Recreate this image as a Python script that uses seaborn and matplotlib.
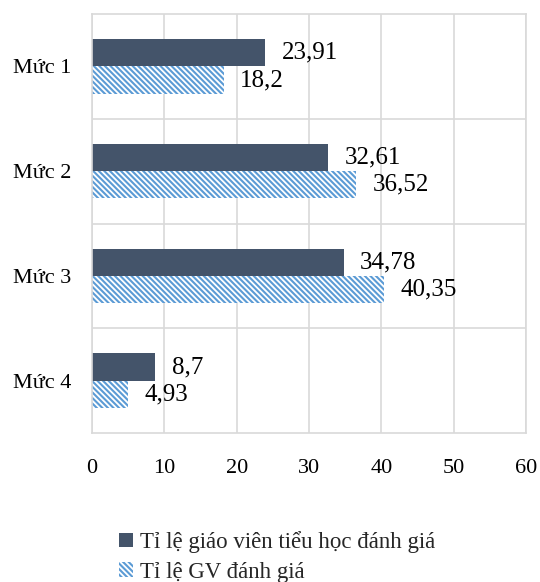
import matplotlib
matplotlib.use("Agg")
import matplotlib.pyplot as plt
import seaborn as sns
import pandas as pd
from matplotlib.patches import Patch

categories = ["Mức 1", "Mức 2", "Mức 3", "Mức 4"]
series_names = ["Tỉ lệ giáo viên tiểu học đánh giá", "Tỉ lệ GV đánh giá"]
values_a = [23.91, 32.61, 34.78, 8.7]
values_b = [18.2, 36.52, 40.35, 4.93]
labels_a = ["23,91", "32,61", "34,78", "8,7"]
labels_b = ["18,2", "36,52", "40,35", "4,93"]
xticks = [0, 10, 20, 30, 40, 50, 60]

dark = "#44546A"
blue = "#5B9BD5"
grid = "#D9D9D9"
hatch = "\\\\\\\\\\\\"

sns.set_theme(style="white")
plt.rcParams["font.family"] = ["Liberation Serif", "DejaVu Serif"]
plt.rcParams["hatch.linewidth"] = 1.5

df = pd.DataFrame({
    "cat": categories * 2,
    "val": values_a + values_b,
    "series": [series_names[0]] * 4 + [series_names[1]] * 4,
})

fig = plt.figure(figsize=(5.4, 5.82), dpi=100)
ax = fig.add_axes([92 / 540, 1 - 433 / 582, (526 - 92) / 540, (433 - 14) / 582])

sns.barplot(data=df, y="cat", x="val", hue="series", orient="h",
            palette=[dark, blue], width=0.52, ax=ax, legend=False,
            saturation=1)

conts = ax.containers
for p in conts[1].patches:
    p.set_facecolor("white")
    p.set_edgecolor(blue)
    p.set_hatch(hatch)
    p.set_linewidth(0)
for p in conts[0].patches:
    p.set_linewidth(0)

ax.bar_label(conts[0], labels=labels_a, padding=12, fontsize=18, color="black")
ax.bar_label(conts[1], labels=labels_b, padding=12, fontsize=18, color="black")

ax.set_xlim(0, 60)
ax.set_xticks(xticks)
ax.set_xticklabels([str(t) for t in xticks])
ax.set_ylim(3.5, -0.5)
ax.set_yticks(range(len(categories)))
ax.set_yticklabels(categories)
ax.set_yticks([0.5, 1.5, 2.5], minor=True)
ax.tick_params(axis="both", which="both", length=0, labelsize=16, colors="black")
ax.tick_params(axis="y", pad=15)
ax.tick_params(axis="x", pad=19)
ax.xaxis.grid(True, color=grid, linewidth=1.2)
ax.yaxis.grid(True, which="minor", color=grid, linewidth=1.2)
ax.yaxis.grid(False, which="major")
for s in ax.spines.values():
    s.set_visible(True)
    s.set_color(grid)
    s.set_linewidth(1.2)
ax.set_xlabel("")
ax.set_ylabel("")

handles = [Patch(facecolor=dark, edgecolor=dark, linewidth=0),
           Patch(facecolor="white", edgecolor=blue, hatch=hatch, linewidth=0)]
fig.legend(handles, series_names, loc="upper left",
           bbox_to_anchor=(110 / 540, 1 - 522 / 582), frameon=False,
           fontsize=16.5, handlelength=0.6, handleheight=0.6, handletextpad=0.3,
           labelspacing=0.38, borderaxespad=0)

fig.savefig("out.png", dpi=100)
